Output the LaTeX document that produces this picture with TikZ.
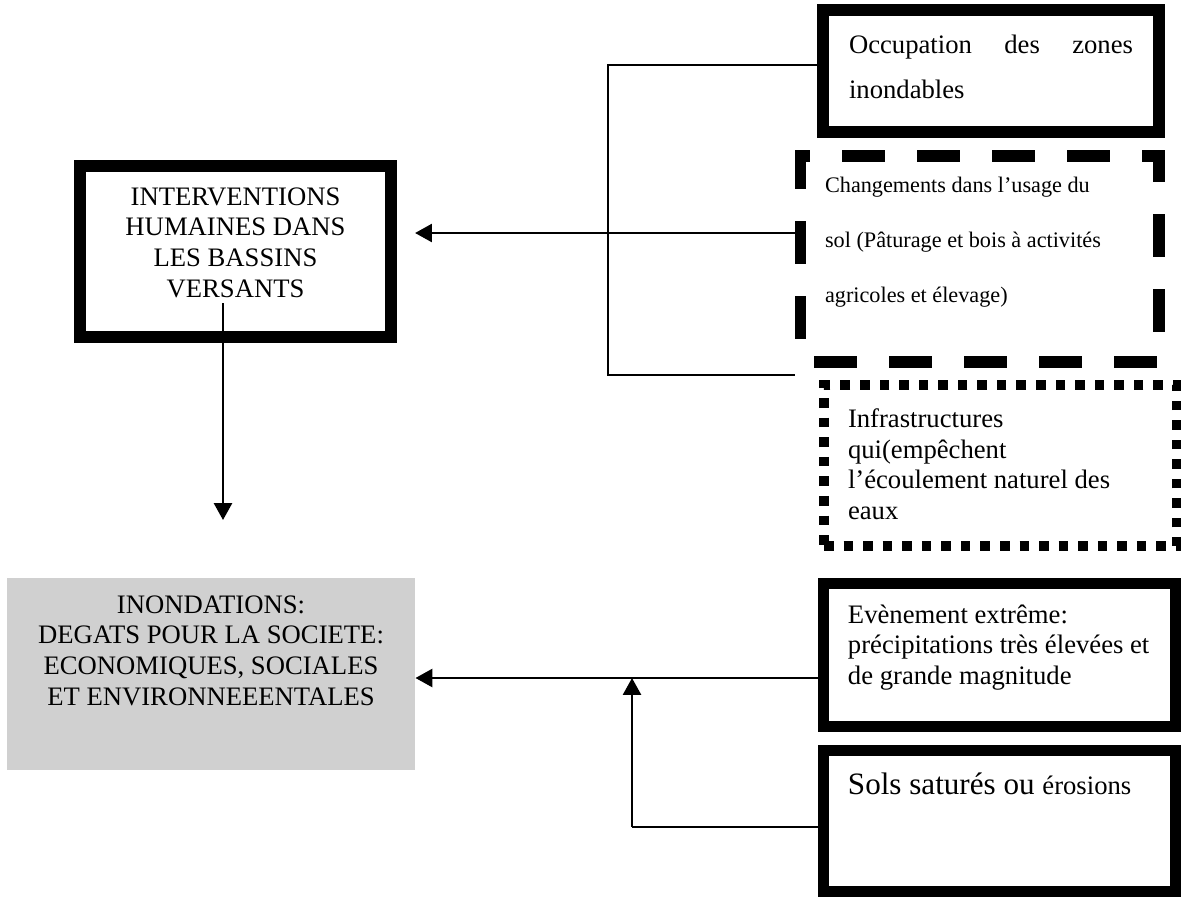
\documentclass[tikz,border=0pt]{standalone}
\usepackage{fontspec}
\setmainfont{Liberation Serif}
\usepackage{tikz}
\usetikzlibrary{arrows.meta}
\definecolor{inondgrey}{RGB}{208,208,208}
\newcommand{\boxtext}[3]{\parbox[t][#2][t]{#1}{#3}}

\begin{document}
\begin{tikzpicture}[x=0.45pt, y=-0.45pt, >={Triangle[length=7.6pt,width=8.1pt]}]
\tikzset{thickbox/.style={draw, line width=5pt, font=\fontsize{12pt}{13.8pt}\selectfont}}
\tikzset{dashbox/.style={draw, line width=5pt, dash pattern=on 19.35pt off 14.4pt, dash phase=27.45pt}}
\tikzset{dotbox/.style={draw, line width=4.2pt, dash pattern=on 4.3pt off 4.5pt}}
\tikzset{link/.style={line width=1.1pt}}

\useasboundingbox (0,0) rectangle (1181,897);

\node[thickbox, line width=5.4pt, inner xsep=4.5pt, inner ysep=9.6pt] (interv) at (235.5,251.5) {\boxtext{131pt}{57.7pt}{\centering INTERVENTIONS\\HUMAINES DANS\\LES BASSINS\\VERSANTS}};
\node[fill=inondgrey, inner xsep=4.5pt, inner ysep=7.8pt, font=\fontsize{12pt}{13.8pt}\selectfont] (inond) at (211,674) {\boxtext{174.6pt}{70.7pt}{\centering INONDATIONS:\\DEGATS POUR LA SOCIETE:\\ECONOMIQUES, SOCIALES\\ET ENVIRONNEEENTALES}};

\node[thickbox, font=\fontsize{12pt}{20.25pt}\selectfont, inner xsep=11.7pt, inner ysep=11.07pt] (occ) at (991,71) {\boxtext{127.8pt}{32.8pt}{Occupation\hfill des\hfill zones\\inondables}};
\node[dashbox, font=\fontsize{10pt}{24.75pt}\selectfont, inner xsep=11.25pt, inner ysep=9.3pt] (chg) at (979.5,259) {\boxtext{139pt}{74.1pt}{Changements dans l’usage du\\sol (Pâturage et bois à activités\\agricoles et élevage)}};
\node[dotbox, font=\fontsize{12pt}{13.8pt}\selectfont, inner xsep=10.8pt, inner ysep=10.6pt] (infra) at (1000.5,465.5) {\boxtext{137.25pt}{51.2pt}{Infrastructures\\qui(empêchent\\l’écoulement naturel des\\eaux}};
\node[thickbox, inner xsep=11pt, inner ysep=9.5pt] (eve) at (999.75,655) {\boxtext{136.6pt}{45.4pt}{Evènement extrême:\\précipitations très élevées et\\de grande magnitude}};
\node[thickbox, inner xsep=11pt, inner ysep=9.9pt] (sols) at (999.75,821) {\boxtext{136.6pt}{43.65pt}{{\fontsize{14pt}{16pt}\selectfont Sols saturés ou }érosions}};

\coordinate (brtop) at (608,65);
\coordinate (hub) at (608,233);
\coordinate (brbot) at (608,375);
\coordinate (drop) at (223,303);
\coordinate (droptip) at (223,520);
\coordinate (join) at (632,678);
\coordinate (solsfoot) at (632,827);

\draw[link] (occ.west |- brtop) -- (brtop) -- (brbot) -- (chg.west |- brbot);
\draw[link,->,shorten >=8.1pt] (chg.west |- hub) -- (interv.east |- hub);
\draw[link,->] (drop) -- (droptip);
\draw[link,->] (eve.west |- join) -- (inond.east |- join);
\draw[link] (sols.west |- solsfoot) -- (solsfoot);
\draw[link,->] (solsfoot) -- (join);
\end{tikzpicture}
\end{document}
